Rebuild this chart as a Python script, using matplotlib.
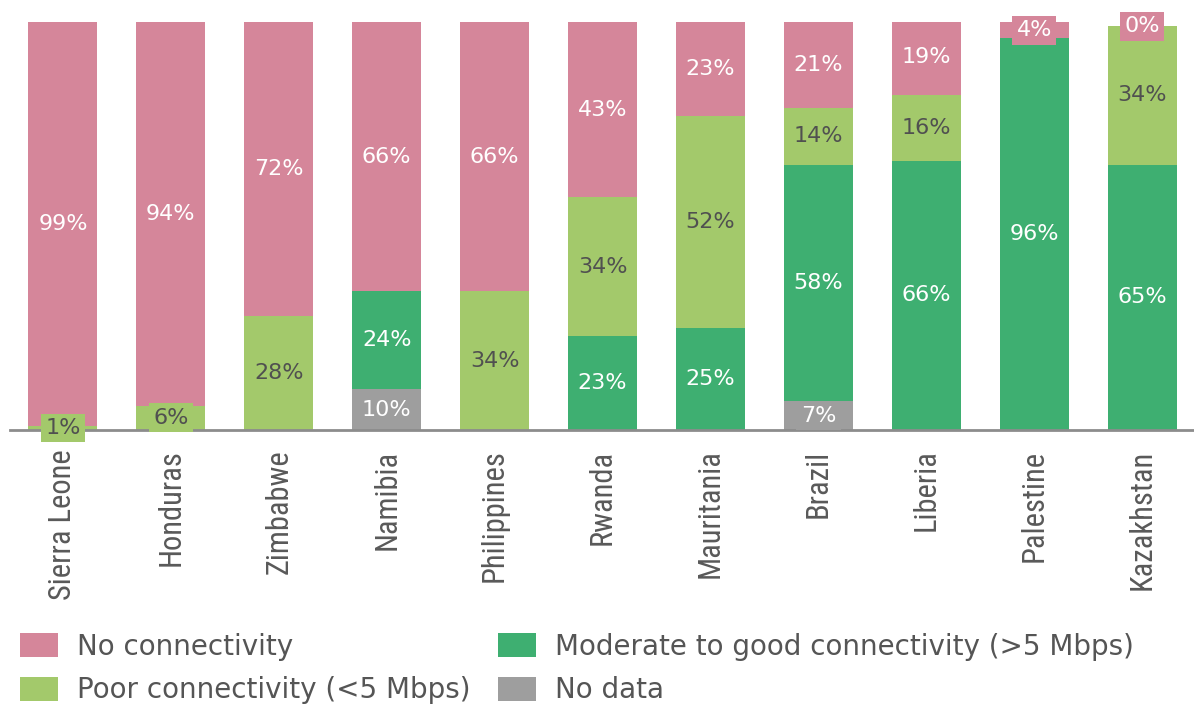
import matplotlib.pyplot as plt
import numpy as np
from matplotlib import font_manager

# share of schools by connectivity level (%), nan = category not present
countries = ['Sierra Leone', 'Honduras', 'Zimbabwe', 'Namibia', 'Philippines', 'Rwanda',
             'Mauritania', 'Brazil', 'Liberia', 'Palestine', 'Kazakhstan']
no_data = np.array([np.nan, np.nan, np.nan, 10, np.nan, np.nan, np.nan, 7, np.nan, np.nan, np.nan])
moderate = np.array([np.nan, np.nan, np.nan, 24, np.nan, 23, 25, 58, 66, 96, 65])
poor = np.array([1, 6, 28, np.nan, 34, 34, 52, 14, 16, np.nan, 34])
no_conn = np.array([99, 94, 72, 66, 66, 43, 23, 21, 19, 4, 0])

names = ['No data', 'Moderate to good connectivity (>5 Mbps)',
         'Poor connectivity (<5 Mbps)', 'No connectivity']
colors = ['#9e9e9e', '#3eaf71', '#a3c96b', '#d5869a']
txt_colors = ['white', 'white', '#505050', 'white']
series = [no_data, moderate, poor, no_conn]

# narrow face for the country names, whichever is installed
installed = {f.name for f in font_manager.fontManager.ttflist}
narrow = [f for f in ['Liberation Sans Narrow', 'DejaVu Sans Condensed', 'Roboto Condensed',
                      'Open Sans Condensed', 'Roboto'] if f in installed][:1] or ['DejaVu Sans']

fig = plt.figure(figsize=(11.94, 7.08), dpi=100)
ax = fig.add_axes([10 / 1194, 1 - 430 / 708, 1 - 10 / 1194, 408 / 708])

x = np.arange(len(countries))
bottom = np.zeros(len(countries))
bars = {}
for vals, name, col, tcol in zip(series, names, colors, txt_colors):
    h = np.nan_to_num(vals)
    bars[name] = ax.bar(x, h, 0.64, bottom=bottom, color=col, label=name, zorder=2)
    for i, v in enumerate(vals):
        if np.isnan(v):
            continue
        y = bottom[i] + h[i] / 2
        box = None
        if v < 8:
            box = dict(boxstyle='square,pad=0.2', fc=col, ec='none')
        ax.text(x[i], y, f'{v:.0f}%', ha='center', va='center', fontsize=16,
                color=tcol, bbox=box, zorder=4)
    bottom += h

ax.set_xlim(-0.49, 10.48)
ax.set_ylim(0, 100)
ax.set_yticks([])
ax.set_xticks(x)
ax.set_xticklabels(countries, rotation=90, fontsize=22, color='#595959',
                   fontfamily=narrow)
ax.tick_params(axis='x', length=0, pad=14)
for s in ['top', 'left', 'right']:
    ax.spines[s].set_visible(False)
ax.spines['bottom'].set_color('#8c8c8c')
ax.spines['bottom'].set_linewidth(2)
ax.spines['bottom'].set_zorder(3)

order = ['No connectivity', 'Poor connectivity (<5 Mbps)',
         'Moderate to good connectivity (>5 Mbps)', 'No data']
leg = fig.legend([bars[n] for n in order], order, loc='upper left',
                 bbox_to_anchor=(20 / 1194, 1 - 633 / 708), ncol=2, frameon=False,
                 fontsize=20, handlelength=1.35, handleheight=0.95,
                 handletextpad=0.7, columnspacing=1.0, labelspacing=0.55, borderpad=0,
                 borderaxespad=0)
for t in leg.get_texts():
    t.set_color('#555555')

fig.savefig('out.png', dpi=100)
